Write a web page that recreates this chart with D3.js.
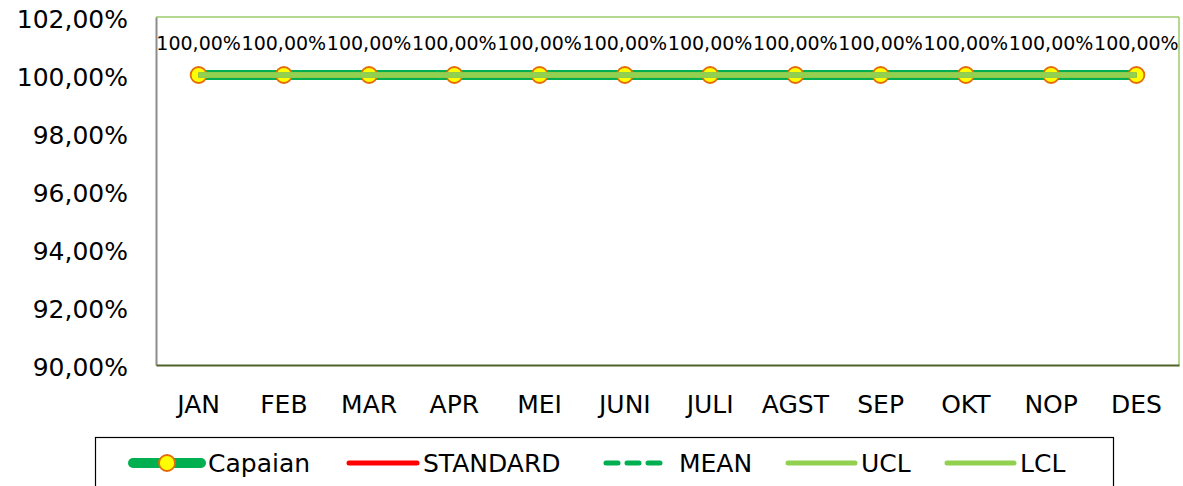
<!DOCTYPE html>
<html>
<head>
<meta charset="utf-8">
<script src="https://cdn.jsdelivr.net/npm/d3@7"></script>
<style>
  html, body { margin: 0; padding: 0; background: #fff; }
  svg { display: block; font-family: "DejaVu Sans", sans-serif; }
</style>
</head>
<body>
<svg id="chart" width="1183" height="486"></svg>
<script>
const months = ["JAN","FEB","MAR","APR","MEI","JUNI","JULI","AGST","SEP","OKT","NOP","DES"];
const capaian  = [100,100,100,100,100,100,100,100,100,100,100,100];
const standard = [100,100,100,100,100,100,100,100,100,100,100,100];
const mean     = [100,100,100,100,100,100,100,100,100,100,100,100];
const ucl      = [100,100,100,100,100,100,100,100,100,100,100,100];
const lcl      = [100,100,100,100,100,100,100,100,100,100,100,100];
const yTicks   = [90,92,94,96,98,100,102];
const seriesNames = ["Capaian","STANDARD","MEAN","UCL","LCL"];

const svg = d3.select("#chart");
const L = 156, R = 1179, T = 17, B = 365;
const x = d3.scaleBand().domain(months).range([L, R]);
const y = d3.scaleLinear().domain([90, 102]).range([B, T]);
const cx = m => x(m) + x.bandwidth() / 2;
const fmt = v => d3.format(".2f")(v).replace(".", ",") + "%";

// plot area border (top/right light green)
svg.append("line").attr("x1", L).attr("x2", R).attr("y1", T).attr("y2", T)
  .attr("stroke", "#9BCB6B").attr("stroke-width", 1.5);
svg.append("line").attr("x1", R).attr("x2", R).attr("y1", T).attr("y2", B)
  .attr("stroke", "#9BCB6B").attr("stroke-width", 1.5);

// y axis
const yAxis = svg.append("g").attr("transform", `translate(${L},0)`)
  .call(d3.axisLeft(y).tickValues(yTicks).tickSize(0).tickPadding(28).tickFormat(fmt));
yAxis.select(".domain").attr("stroke", "#8C8C8C").attr("stroke-width", 2);
yAxis.selectAll("text").attr("font-size", 25).attr("fill", "#000")
  .attr("font-family", "DejaVu Sans").attr("dy", "0.42em");

// x axis
const xAxis = svg.append("g").attr("transform", `translate(0,${B})`)
  .call(d3.axisBottom(x).tickSize(0).tickPadding(30));
xAxis.select(".domain").attr("stroke", "#4F6228").attr("stroke-width", 2);
xAxis.selectAll("text").attr("font-size", 25).attr("fill", "#000")
  .attr("font-family", "DejaVu Sans");

const line = d3.line().x((d, i) => cx(months[i])).y(d => y(d));

// Capaian line
svg.append("path").datum(capaian).attr("d", line).attr("fill", "none")
  .attr("stroke", "#00B050").attr("stroke-width", 10).attr("stroke-linejoin", "round");
// markers
svg.selectAll("circle.cap").data(capaian).enter().append("circle").attr("class", "cap")
  .attr("cx", (d, i) => cx(months[i])).attr("cy", d => y(d)).attr("r", 8)
  .attr("fill", "#FFFF00").attr("stroke", "#E46C0A").attr("stroke-width", 1.8);
// STANDARD
svg.append("path").datum(standard).attr("d", line).attr("fill", "none")
  .attr("stroke", "#FF0000").attr("stroke-width", 5);
// MEAN
svg.append("path").datum(mean).attr("d", line).attr("fill", "none")
  .attr("stroke", "#00B050").attr("stroke-width", 5).attr("stroke-dasharray", "14,7");
// UCL
svg.append("path").datum(ucl).attr("d", line).attr("fill", "none")
  .attr("stroke", "#92D050").attr("stroke-width", 5.5);
// LCL
svg.append("path").datum(lcl).attr("d", line).attr("fill", "none")
  .attr("stroke", "#92D050").attr("stroke-width", 5.5);

// data labels
svg.selectAll("text.lbl").data(capaian).enter().append("text").attr("class", "lbl")
  .attr("x", (d, i) => cx(months[i])).attr("y", d => y(d) - 25)
  .attr("text-anchor", "middle").attr("font-size", 19).attr("fill", "#000")
  .text(d => fmt(d));

// legend
const lg = svg.append("g");
lg.append("rect").attr("x", 95.5).attr("y", 437.5).attr("width", 1018).attr("height", 60)
  .attr("fill", "#fff").attr("stroke", "#000").attr("stroke-width", 1.2);
const ly = 463;
const items = [
  {x1: 133, x2: 201, tx: 208, stroke: "#00B050", w: 10, marker: true},
  {x1: 349, x2: 417, tx: 423, stroke: "#FF0000", w: 5},
  {x1: 606, x2: 666, tx: 679, stroke: "#00B050", w: 5, dash: "12,9"},
  {x1: 788, x2: 855, tx: 861, stroke: "#92D050", w: 5},
  {x1: 947, x2: 1014, tx: 1020, stroke: "#92D050", w: 5}
];
items.forEach((it, i) => {
  const ln = lg.append("line").attr("x1", it.x1).attr("x2", it.x2).attr("y1", ly).attr("y2", ly)
    .attr("stroke", it.stroke).attr("stroke-width", it.w).attr("stroke-linecap", "round");
  if (it.dash) ln.attr("stroke-dasharray", it.dash);
  if (it.marker) lg.append("circle").attr("cx", (it.x1 + it.x2) / 2).attr("cy", ly).attr("r", 8)
    .attr("fill", "#FFFF00").attr("stroke", "#E46C0A").attr("stroke-width", 1.8);
  lg.append("text").attr("x", it.tx).attr("y", ly + 9).attr("font-size", 25).attr("fill", "#000")
    .text(seriesNames[i]);
});
</script>
</body>
</html>
